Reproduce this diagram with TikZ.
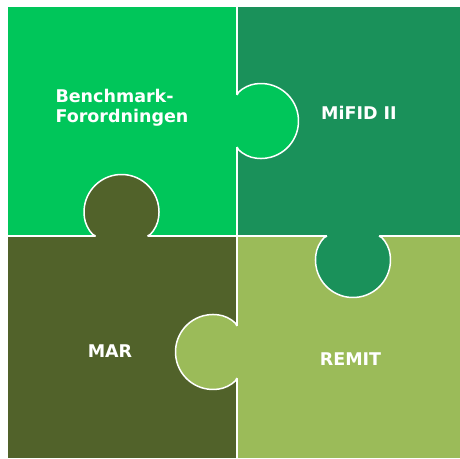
\documentclass[tikz,border=0pt]{standalone}
\usepackage{fontspec}
\setmainfont{DejaVu Sans}
\definecolor{benchgreen}{RGB}{0,198,90}
\definecolor{mifidgreen}{RGB}{26,145,90}
\definecolor{marolive}{RGB}{81,98,42}
\definecolor{remitgreen}{RGB}{155,187,89}
\tikzset{
  seam/.style={white,line width=1.5pt},
  piecetext/.style={text=white,font=\bfseries\fontsize{17.5}{20}\selectfont}
}
% knob: x, y, rotation, colour of the piece it belongs to
\newcommand{\knob}[4]{%
  \begin{scope}[shift={(#1,#2)},rotate=#3]
    \fill[#4] (-26,-0.8) -- (-26,0) .. controls (-29.5,0.5) and (-34.6,8.5) .. (-36.2,14.3)
      arc[start angle=195,end angle=-15,radius=37.5]
      .. controls (34.6,8.5) and (29.5,0.5) .. (26,0) -- (26,-0.8) -- cycle;
    \draw[seam] (-26,0) .. controls (-29.5,0.5) and (-34.6,8.5) .. (-36.2,14.3)
      arc[start angle=195,end angle=-15,radius=37.5]
      .. controls (34.6,8.5) and (29.5,0.5) .. (26,0);
  \end{scope}}
\begin{document}
\begin{tikzpicture}[x=1pt,y=1pt]
\useasboundingbox (0,0) rectangle (460,458);
\fill[benchgreen] (8,222) rectangle (237,451);
\fill[mifidgreen] (237,222) rectangle (460,451);
\fill[marolive] (8,0) rectangle (237,222);
\fill[remitgreen] (237,0) rectangle (460,222);
\draw[seam] (237,0)--(237,451);
\draw[seam] (8,222)--(460,222);

\knob{237}{337}{-90}{benchgreen}
\knob{121.5}{222}{0}{marolive}
\knob{353}{222}{180}{mifidgreen}
\knob{237}{106}{90}{remitgreen}

\node[piecetext,anchor=base west,align=left] (bench) at (52,335) {Benchmark-\\Forordningen};
\node[piecetext,anchor=base] (mifid) at (359,338) {MiFID II};
\node[piecetext,anchor=base] (mar) at (110,101) {MAR};
\node[piecetext,anchor=base] (remit) at (350.5,93) {REMIT};
\end{tikzpicture}
\end{document}
